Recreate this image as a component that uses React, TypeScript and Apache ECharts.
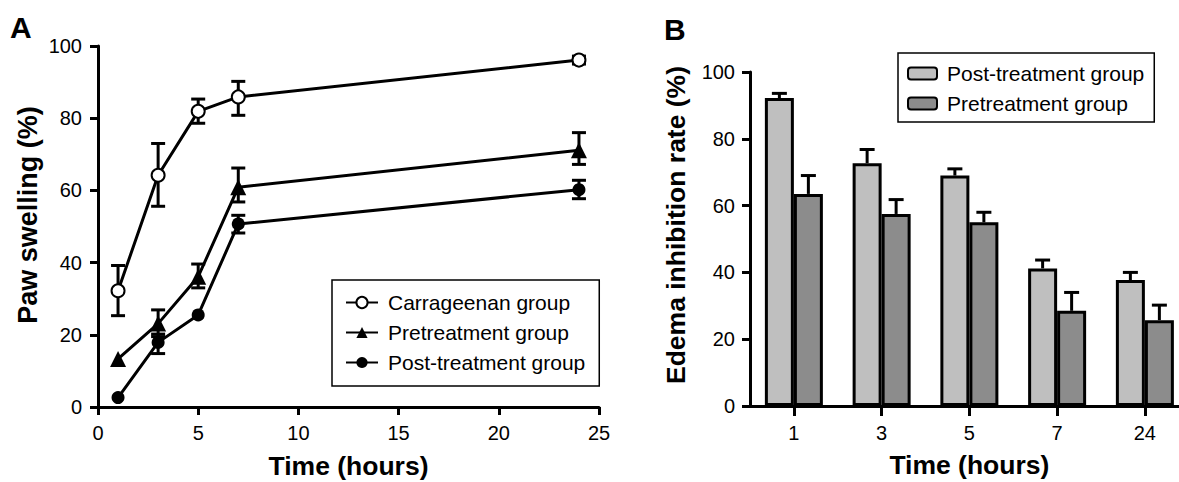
import React, { useEffect, useRef } from 'react';
import * as echarts from 'echarts';

// ---- Panel A data: paw swelling (%) over time (hours) ----
const timesA = [1, 3, 5, 7, 24];
const carrageenan = [32.2, 64.2, 81.9, 85.9, 96.1];
const carrageenanLo = [25.3, 55.6, 78.6, 80.8, 95.0];
const carrageenanHi = [39.2, 73.0, 85.3, 90.2, 97.2];
const pretreatment = [13.3, 23.1, 36.1, 60.9, 71.1];
const pretreatmentLo = [13.3, 19.5, 33.0, 56.8, 67.2];
const pretreatmentHi = [13.3, 26.9, 39.6, 66.2, 76.0];
const postTreatment = [2.6, 17.9, 25.5, 50.7, 60.2];
const postTreatmentLo = [2.6, 14.8, 25.5, 48.2, 57.7];
const postTreatmentHi = [2.6, 20.2, 25.5, 53.1, 62.8];
const namesA = ['Carrageenan group', 'Pretreatment group', 'Post-treatment group'];

// ---- Panel B data: edema inhibition rate (%) ----
const categoriesB = ['1', '3', '5', '7', '24'];
const postInhibition = [92.2, 72.7, 69.0, 41.2, 37.7];
const postInhibitionHi = [93.6, 76.8, 71.0, 43.7, 40.0];
const preInhibition = [63.5, 57.5, 55.0, 28.5, 25.7];
const preInhibitionHi = [69.0, 61.8, 58.0, 34.0, 30.2];
const namesB = ['Post-treatment group', 'Pretreatment group'];

const FONT = 'Liberation Sans, Arial, Helvetica, sans-serif';
const BLACK = '#000';

function errorSeriesA(lo: number[], hi: number[]) {
  const data = timesA
    .map((t, i) => [t, lo[i], hi[i]])
    .filter((d) => d[2] - d[1] > 0.01);
  return {
    type: 'custom',
    z: 1,
    silent: true,
    encode: { x: 0, y: [1, 2] },
    data,
    renderItem: (_params: any, api: any) => {
      const x = api.value(0);
      const pLo = api.coord([x, api.value(1)]);
      const pHi = api.coord([x, api.value(2)]);
      const w = 7;
      const st = { stroke: BLACK, lineWidth: 3 };
      return {
        type: 'group',
        children: [
          { type: 'line', shape: { x1: pLo[0], y1: pLo[1], x2: pHi[0], y2: pHi[1] }, style: st },
          { type: 'line', shape: { x1: pLo[0] - w, y1: pLo[1], x2: pLo[0] + w, y2: pLo[1] }, style: st },
          { type: 'line', shape: { x1: pHi[0] - w, y1: pHi[1], x2: pHi[0] + w, y2: pHi[1] }, style: st },
        ],
      };
    },
  };
}

function lineSeriesA(name: string, vals: number[], symbol: string, size: number) {
  return {
    type: 'line',
    name,
    z: 3,
    data: timesA.map((t, i) => [t, vals[i]]),
    symbol,
    symbolSize: size,
    showAllSymbol: true,
    lineStyle: { color: BLACK, width: 3 },
    itemStyle: { color: BLACK, borderColor: BLACK, borderWidth: symbol === 'emptyCircle' ? 3 : 0 },
    emphasis: { disabled: true },
  };
}

function errorSeriesB(vals: number[], hi: number[], side: number) {
  return {
    type: 'custom',
    z: 4,
    silent: true,
    encode: { x: 0, y: [1, 2] },
    data: categoriesB.map((_c, i) => [i, vals[i], hi[i]]),
    renderItem: (_params: any, api: any) => {
      const idx = api.value(0);
      const pTop = api.coord([idx, api.value(1)]);
      const pHi = api.coord([idx, api.value(2)]);
      const x = pTop[0] + side * 14.5;
      const w = 7.5;
      const st = { stroke: BLACK, lineWidth: 3 };
      return {
        type: 'group',
        children: [
          { type: 'line', shape: { x1: x, y1: pTop[1], x2: x, y2: pHi[1] }, style: st },
          { type: 'line', shape: { x1: x - w, y1: pHi[1], x2: x + w, y2: pHi[1] }, style: st },
        ],
      };
    },
  };
}

const axisCommon = {
  axisLine: { show: true, onZero: false, lineStyle: { color: BLACK, width: 3 } },
  axisTick: { show: true, inside: false, length: 8, lineStyle: { color: BLACK, width: 3 } },
  splitLine: { show: false },
};

const optionA: any = {
  animation: false,
  backgroundColor: 'transparent',
  textStyle: { fontFamily: FONT, color: BLACK },
  grid: { left: 98, top: 46, width: 501, height: 361, containLabel: false, outerBoundsMode: 'none' },
  xAxis: {
    type: 'value',
    min: 0,
    max: 25,
    interval: 5,
    ...axisCommon,
    axisLabel: { fontSize: 20, color: BLACK, margin: 16, fontFamily: FONT },
    name: 'Time (hours)',
    nameLocation: 'middle',
    nameGap: 45,
    nameTextStyle: { fontSize: 26.5, fontWeight: 'bold', color: BLACK, fontFamily: FONT },
  },
  yAxis: {
    type: 'value',
    min: 0,
    max: 100,
    interval: 20,
    ...axisCommon,
    axisLabel: { fontSize: 20, color: BLACK, margin: 16, fontFamily: FONT },
  },
  legend: {
    data: namesA,
    orient: 'vertical',
    left: 332,
    top: 280,
    padding: [12, 14, 13, 13],
    itemGap: 9,
    itemWidth: 32,
    itemHeight: 14,
    borderColor: BLACK,
    borderWidth: 1.5,
    selectedMode: false,
    textStyle: { fontSize: 21, color: BLACK, fontFamily: FONT, lineHeight: 21, padding: [0, 0, 0, 5] },
  },
  graphic: [
    {
      type: 'text',
      x: 10,
      y: 27.5,
      style: { text: 'A', fontSize: 30, fontWeight: 'bold', fontFamily: FONT, fill: BLACK, align: 'left', verticalAlign: 'middle' },
    },
    {
      type: 'text',
      x: 27.5,
      y: 215,
      rotation: Math.PI / 2,
      style: { text: 'Paw swelling (%)', fontSize: 27, fontWeight: 'bold', fontFamily: FONT, fill: BLACK, align: 'center', verticalAlign: 'middle' },
    },
  ],
  series: [
    errorSeriesA(carrageenanLo, carrageenanHi),
    errorSeriesA(pretreatmentLo, pretreatmentHi),
    errorSeriesA(postTreatmentLo, postTreatmentHi),
    lineSeriesA(namesA[0], carrageenan, 'emptyCircle', 13),
    lineSeriesA(namesA[1], pretreatment, 'triangle', 16),
    lineSeriesA(namesA[2], postTreatment, 'circle', 13),
  ],
};

const optionB: any = {
  animation: false,
  backgroundColor: 'transparent',
  textStyle: { fontFamily: FONT, color: BLACK },
  grid: { left: 150, top: 72, width: 438.75, height: 334, containLabel: false, outerBoundsMode: 'none' },
  xAxis: {
    type: 'category',
    data: categoriesB,
    ...axisCommon,
    axisTick: { show: true, inside: false, alignWithLabel: true, length: 10, lineStyle: { color: BLACK, width: 3 } },
    axisLabel: { fontSize: 20, color: BLACK, margin: 17, fontFamily: FONT },
    name: 'Time (hours)',
    nameLocation: 'middle',
    nameGap: 45,
    nameTextStyle: { fontSize: 26.5, fontWeight: 'bold', color: BLACK, fontFamily: FONT },
  },
  yAxis: {
    type: 'value',
    min: 0,
    max: 100,
    interval: 20,
    ...axisCommon,
    axisLabel: { fontSize: 20, color: BLACK, margin: 15, fontFamily: FONT },
  },
  legend: {
    data: namesB,
    orient: 'vertical',
    left: 298,
    top: 53,
    padding: [10, 10, 8, 9],
    itemGap: 9,
    itemWidth: 29,
    itemHeight: 12,
    borderColor: BLACK,
    borderWidth: 1.5,
    selectedMode: false,
    textStyle: { fontSize: 21, color: BLACK, fontFamily: FONT, lineHeight: 21, padding: [0, 0, 0, 5] },
  },
  graphic: [
    {
      type: 'text',
      x: 64,
      y: 29.5,
      style: { text: 'B', fontSize: 30, fontWeight: 'bold', fontFamily: FONT, fill: BLACK, align: 'left', verticalAlign: 'middle' },
    },
    {
      type: 'text',
      x: 76,
      y: 225,
      rotation: Math.PI / 2,
      style: { text: 'Edema inhibition rate (%)', fontSize: 26.5, fontWeight: 'bold', fontFamily: FONT, fill: BLACK, align: 'center', verticalAlign: 'middle' },
    },
  ],
  series: [
    {
      type: 'bar',
      name: namesB[0],
      data: postInhibition,
      barWidth: 29,
      barGap: '0%',
      z: 2,
      itemStyle: { color: '#bfbfbf', borderColor: BLACK, borderWidth: 3 },
      emphasis: { disabled: true },
    },
    {
      type: 'bar',
      name: namesB[1],
      data: preInhibition,
      barWidth: 29,
      barGap: '0%',
      z: 2,
      itemStyle: { color: '#8c8c8c', borderColor: BLACK, borderWidth: 3 },
      emphasis: { disabled: true },
    },
    errorSeriesB(postInhibition, postInhibitionHi, -1),
    errorSeriesB(preInhibition, preInhibitionHi, 1),
  ],
};

export default function App() {
  const refA = useRef<HTMLDivElement>(null);
  const refB = useRef<HTMLDivElement>(null);
  useEffect(() => {
    const a = echarts.init(refA.current!, null, { renderer: 'svg' });
    const b = echarts.init(refB.current!, null, { renderer: 'svg' });
    a.setOption(optionA);
    b.setOption(optionB);
    return () => {
      a.dispose();
      b.dispose();
    };
  }, []);
  return (
    <div style={{ position: 'absolute', left: 0, top: 0, width: 1179, height: 482, background: '#fff', overflow: 'hidden' }}>
      <div ref={refA} style={{ position: 'absolute', left: 0, top: 0, width: 640, height: 482 }} />
      <div ref={refB} style={{ position: 'absolute', left: 600, top: 0, width: 579, height: 482 }} />
    </div>
  );
}
